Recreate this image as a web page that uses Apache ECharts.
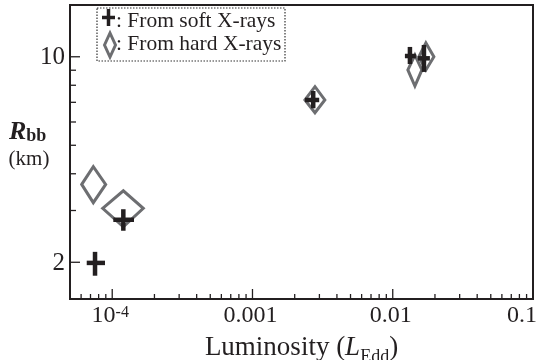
<!DOCTYPE html>
<html><head><meta charset="utf-8">
<script src="https://cdn.jsdelivr.net/npm/echarts@6/dist/echarts.min.js"></script>
<style>html,body{margin:0;padding:0;background:#fff}#c{width:536px;height:360px}</style>
</head><body><div id="c"></div>
<script>
// ---- data (luminosity in L_Edd, radius in km) ----
const softL   = [7.54e-5, 1.20e-4, 2.71e-3, 1.326e-2, 1.669e-2];
const softLlo = [6.58e-5, 1.018e-4, 2.366e-3, 1.221e-2, 1.511e-2];
const softLhi = [8.88e-5, 1.43e-4, 2.99e-3, 1.463e-2, 1.84e-2];
const softR   = [1.99, 2.79, 7.13, 10.06, 9.88];
const softRlo = [1.80, 2.56, 6.68, 9.45, 8.88];
const softRhi = [2.17, 3.03, 7.65, 10.8, 10.97];

const hardL   = [7.33e-5, 1.20e-4, 2.79e-3, 1.439e-2, 1.723e-2];
const hardLlo = [6.06e-5, 8.55e-5, 2.366e-3, 1.282e-2, 1.536e-2];
const hardLhi = [8.98e-5, 1.665e-4, 3.28e-3, 1.614e-2, 1.965e-2];
const hardR   = [3.68, 3.05, 7.13, 9.02, 10.0];
const hardRlo = [3.19, 2.64, 6.45, 7.95, 9.02];
const hardRhi = [4.23, 3.50, 7.91, 10.14, 11.14];

const xMajorTicks = [1e-4, 1e-3, 1e-2, 1e-1];
const xTickLabels = ['{b|10}{s|-4}', '0.001', '0.01', '0.1'];
const xMinorTicks = [6e-5, 7e-5, 8e-5, 9e-5,
  2e-4, 3e-4, 4e-4, 5e-4, 6e-4, 7e-4, 8e-4, 9e-4,
  2e-3, 3e-3, 4e-3, 5e-3, 6e-3, 7e-3, 8e-3, 9e-3,
  2e-2, 3e-2, 4e-2, 5e-2, 6e-2, 7e-2, 8e-2, 9e-2];
const yMajorTicks = [2, 10];
const yTickLabels = ['2', '10'];
const yMinorTicks = [3, 4, 5, 6, 7, 8, 9];

const X_MIN = 5e-5, X_MAX = 0.1, Y_MIN = 1.5, Y_MAX = 15;
const INK = '#231f20', GRAY = '#6d6e71';
const FONT = '"Liberation Serif", "Times New Roman", serif';

const chart = echarts.init(document.getElementById('c'), null, {renderer: 'canvas'});

function xTickSeries(values, len) {
  return {
    type: 'custom', silent: true, z: 5,
    data: values.map(v => [v, Y_MIN]),
    encode: {x: 0, y: 1},
    renderItem: (p, api) => {
      const c = api.coord([api.value(0), api.value(1)]);
      return {type: 'line', shape: {x1: c[0], y1: c[1], x2: c[0], y2: c[1] - len},
        style: {stroke: INK, lineWidth: 1.3}};
    }
  };
}
function yTickSeries(values, len) {
  return {
    type: 'custom', silent: true, z: 5,
    data: values.map(v => [X_MIN, v]),
    encode: {x: 0, y: 1},
    renderItem: (p, api) => {
      const c = api.coord([api.value(0), api.value(1)]);
      return {type: 'line', shape: {x1: c[0], y1: c[1], x2: c[0] + len, y2: c[1]},
        style: {stroke: INK, lineWidth: 1.3}};
    }
  };
}

const option = {
  animation: false,
  backgroundColor: '#fff',
  grid: {left: 70, right: 3, top: 5, bottom: 61, show: true, borderColor: INK, borderWidth: 2,
    backgroundColor: 'transparent', containLabel: false, outerBoundsMode: 'none'},
  xAxis: {
    type: 'log', logBase: 10, min: X_MIN, max: X_MAX,
    axisLine: {show: false}, axisTick: {show: false}, axisLabel: {show: false}, splitLine: {show: false},
    name: '{n|Luminosity (}{i|L}{s|Edd}{n|)}',
    nameLocation: 'middle', nameGap: 34,
    nameTextStyle: {
      fontFamily: FONT, color: INK,
      rich: {
        n: {fontSize: 27, fontFamily: FONT, color: INK, lineHeight: 30},
        i: {fontSize: 27, fontFamily: FONT, color: INK, fontStyle: 'italic', lineHeight: 30},
        s: {fontSize: 18, fontFamily: FONT, color: INK, padding: [18, 0, 0, 0], lineHeight: 18}
      }
    }
  },
  yAxis: {
    type: 'log', logBase: 10, min: Y_MIN, max: Y_MAX,
    axisLine: {show: false}, axisTick: {show: false}, axisLabel: {show: false}, splitLine: {show: false}
  },
  graphic: [
    {type: 'rect', z: 100, shape: {x: 97, y: 8, width: 188, height: 53},
      style: {fill: '#fff', stroke: '#333', lineWidth: 1.2, lineDash: [1.5, 1.5]}},
    {type: 'line', z: 101, shape: {x1: 102, y1: 17.5, x2: 115, y2: 17.5}, style: {stroke: INK, lineWidth: 3.5}},
    {type: 'line', z: 101, shape: {x1: 108.5, y1: 9, x2: 108.5, y2: 26}, style: {stroke: INK, lineWidth: 3.5}},
    {type: 'polygon', z: 101, shape: {points: [[104.5, 45], [110, 33], [115.5, 45], [110, 57]]},
      style: {fill: 'none', stroke: GRAY, lineWidth: 3}},
    {type: 'text', z: 101, x: 116, y: 21, style: {text: ': From soft X-rays', font: '21.5px ' + FONT, fill: INK, verticalAlign: 'middle', align: 'left'}},
    {type: 'text', z: 101, x: 116, y: 44, style: {text: ': From hard X-rays', font: '21.5px ' + FONT, fill: INK, verticalAlign: 'middle', align: 'left'}},
    {type: 'text', x: 9, y: 145, style: {
      text: '{r|R}{b|bb}', verticalAlign: 'bottom', align: 'left',
      rich: {
        r: {fontSize: 26, fontFamily: FONT, fontWeight: 'bold', fontStyle: 'italic', fill: INK, lineHeight: 26},
        b: {fontSize: 18, fontFamily: FONT, fontWeight: 'bold', fill: INK, padding: [8, 0, 0, 0], lineHeight: 18}
      }
    }},
    {type: 'text', x: 29, y: 159, style: {text: '(km)', font: '21px ' + FONT, fill: INK, align: 'center', verticalAlign: 'middle'}}
  ],
  series: [
    {
      name: 'From hard X-rays', type: 'custom', z: 10,
      data: hardL.map((x, i) => [x, hardR[i], hardLlo[i], hardLhi[i], hardRlo[i], hardRhi[i]]),
      encode: {x: 0, y: 1},
      renderItem: (p, api) => {
        const x = api.value(0), y = api.value(1);
        const l = api.coord([api.value(2), y]), r = api.coord([api.value(3), y]);
        const b = api.coord([x, api.value(4)]), t = api.coord([x, api.value(5)]);
        return {type: 'polygon', shape: {points: [l, t, r, b]},
          style: {fill: 'none', stroke: GRAY, lineWidth: 3, lineJoin: 'miter'}};
      }
    },
    {
      name: 'From soft X-rays', type: 'custom', z: 11,
      data: softL.map((x, i) => [x, softR[i], softLlo[i], softLhi[i], softRlo[i], softRhi[i]]),
      encode: {x: 0, y: 1},
      renderItem: (p, api) => {
        const x = api.value(0), y = api.value(1);
        const l = api.coord([api.value(2), y]), r = api.coord([api.value(3), y]);
        const b = api.coord([x, api.value(4)]), t = api.coord([x, api.value(5)]);
        return {type: 'group', children: [
          {type: 'line', shape: {x1: l[0], y1: l[1], x2: r[0], y2: r[1]}, style: {stroke: INK, lineWidth: 4.5}},
          {type: 'line', shape: {x1: t[0], y1: t[1], x2: b[0], y2: b[1]}, style: {stroke: INK, lineWidth: 4.5}}
        ]};
      }
    },
    xTickSeries(xMajorTicks, 10),
    xTickSeries(xMinorTicks, 5),
    yTickSeries(yMajorTicks, 10),
    yTickSeries(yMinorTicks, 6),
    {
      type: 'custom', silent: true, z: 5,
      data: xMajorTicks.map((v, i) => [v, Y_MIN, i]),
      encode: {x: 0, y: 1},
      renderItem: (p, api) => {
        const c = api.coord([api.value(0), api.value(1)]);
        const i = api.value(2);
        const last = i === xMajorTicks.length - 1;
        return {type: 'text', x: last ? c[0] + 4 : c[0] - 2, y: c[1] + 17, style: {
          text: xTickLabels[i], align: last ? 'right' : 'center', verticalAlign: 'middle',
          font: '24px ' + FONT, fill: INK,
          rich: {
            b: {fontSize: 24, fontFamily: FONT, fill: INK},
            s: {fontSize: 16, fontFamily: FONT, fill: INK, padding: [0, 0, 7, 0]}
          }
        }};
      }
    },
    {
      type: 'custom', silent: true, z: 5,
      data: yMajorTicks.map((v, i) => [X_MIN, v, i]),
      encode: {x: 0, y: 1},
      renderItem: (p, api) => {
        const c = api.coord([api.value(0), api.value(1)]);
        return {type: 'text', x: c[0] - 5, y: c[1] + 1, style: {
          text: yTickLabels[api.value(2)], align: 'right', verticalAlign: 'middle',
          font: '25px ' + FONT, fill: INK
        }};
      }
    }
  ]
};
chart.setOption(option);
</script>
</body></html>
